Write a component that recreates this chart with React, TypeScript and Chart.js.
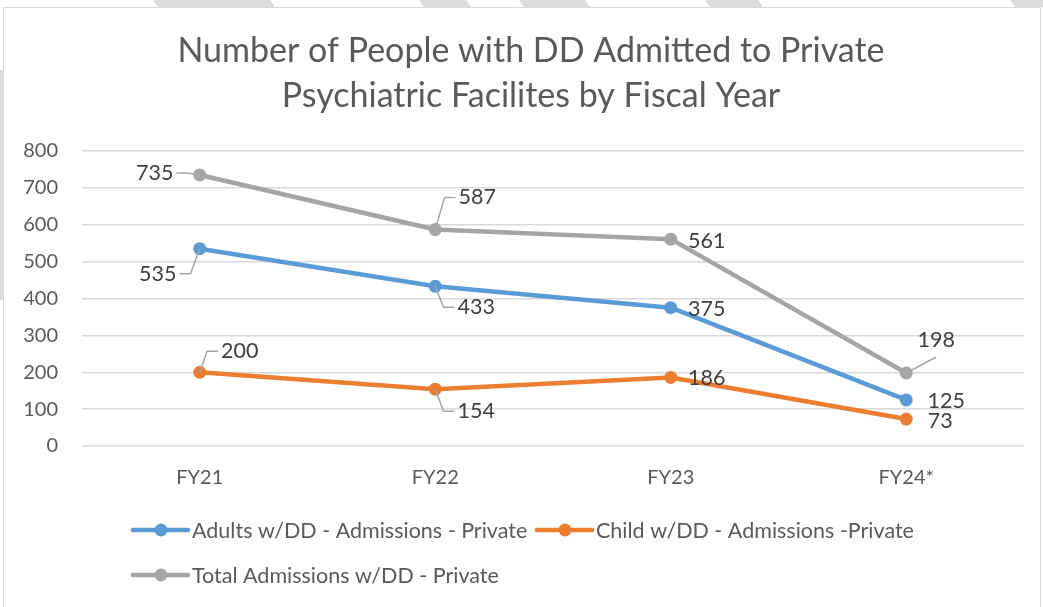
import React, { useEffect, useRef } from "react";
import { Chart, registerables } from "chart.js";

Chart.register(...registerables);

const categories = ["FY21", "FY22", "FY23", "FY24*"];
const adultsValues = [535, 433, 375, 125];
const childValues = [200, 154, 186, 73];
const totalValues = [735, 587, 561, 198];
const yMin = 0;
const yMax = 800;
const yStep = 100;

const titleLines = ["Number of People with DD Admitted to Private", "Psychiatric Facilites by Fiscal Year"];
const seriesNames = [
  "Adults w/DD - Admissions - Private",
  "Child w/DD - Admissions -Private",
  "Total Admissions w/DD - Private",
];
const seriesColors = ["#5B9BD5", "#ED7D31", "#A5A5A5"];

// label placement style: [dx, dy, leader] (leader: "" none, "h" elbow, "d" diagonal)
const labelStyles: [number, number, string][][] = [
  [[-42, 25, "h"], [41, 21, "h"], [36, 1, ""], [40, 1, ""]],
  [[40, -21, "h"], [41, 22, "h"], [36, 1, ""], [34, 2, ""]],
  [[-45, -2, "h"], [42, -32, "h"], [36, 2, ""], [30, -33, "d"]],
];

const FONT = "Lato, 'Open Sans', sans-serif";
const TEXT = "#595959";

const decorPlugin = {
  id: "decor",
  beforeDraw(chart: any) {
    const ctx = chart.ctx;
    const W = chart.width;
    const H = chart.height;
    ctx.save();
    ctx.fillStyle = "#ffffff";
    ctx.fillRect(0, 0, W, H);
    // top stripes
    ctx.fillStyle = "#DCDCDC";
    const stripes = [[153, 270], [419, 466], [519, 585], [705, 758], [1010, 1043]];
    stripes.forEach(([a, b]) => {
      ctx.beginPath();
      ctx.moveTo(a, 0);
      ctx.lineTo(b, 0);
      ctx.lineTo(b + 5, 7);
      ctx.lineTo(a + 5, 7);
      ctx.closePath();
      ctx.fill();
    });
    ctx.fillRect(0, 70, 3, 230);
    // frame
    ctx.strokeStyle = "#D9D9D9";
    ctx.lineWidth = 1;
    ctx.strokeRect(3.5, 7.5, W - 6, H);
    // title
    ctx.fillStyle = TEXT;
    ctx.font = `34px ${FONT}`;
    ctx.textAlign = "center";
    ctx.textBaseline = "middle";
    ctx.fillText(titleLines[0], 531, 51);
    ctx.fillText(titleLines[1], 531, 96);
    ctx.restore();
  },
  afterDraw(chart: any) {
    const ctx = chart.ctx;
    ctx.save();
    // data labels
    ctx.font = `21.5px ${FONT}`;
    ctx.textBaseline = "middle";
    ctx.textAlign = "center";
    chart.data.datasets.forEach((ds: any, di: number) => {
      const meta = chart.getDatasetMeta(di);
      meta.data.forEach((pt: any, i: number) => {
        const [dx, dy, leader] = labelStyles[di][i];
        const px = pt.x;
        const py = pt.y;
        const lx = px + dx;
        const ly = py + dy;
        const txt = String(ds.data[i]);
        const w = ctx.measureText(txt).width;
        if (leader) {
          ctx.strokeStyle = "#A6A6A6";
          ctx.lineWidth = 1.5;
          ctx.beginPath();
          if (leader === "h") {
            const right = lx > px;
            const ax = right ? lx - w / 2 - 3 : lx + w / 2 + 3;
            const ex = right ? ax - 11 : ax + 11;
            ctx.moveTo(px, py);
            ctx.lineTo(ex, ly);
            ctx.lineTo(ax, ly);
          } else {
            ctx.moveTo(px, py);
            ctx.lineTo(lx, ly + 17);
          }
          ctx.stroke();
        }
        ctx.fillStyle = "#404040";
        ctx.fillText(txt, lx, ly);
      });
    });
    // legend
    ctx.font = `21.5px ${FONT}`;
    ctx.textAlign = "left";
    const items = [
      [133, 530],
      [537, 530],
      [133, 575],
    ];
    items.forEach(([x, y], k) => {
      ctx.strokeStyle = seriesColors[k];
      ctx.lineWidth = 4.5;
      ctx.lineCap = "round";
      ctx.beginPath();
      ctx.moveTo(x, y);
      ctx.lineTo(x + 55, y);
      ctx.stroke();
      ctx.fillStyle = seriesColors[k];
      ctx.beginPath();
      ctx.arc(x + 28, y, 6.5, 0, Math.PI * 2);
      ctx.fill();
      ctx.fillStyle = TEXT;
      ctx.fillText(seriesNames[k], x + 59, y + 1);
    });
    ctx.restore();
  },
};

export default function App() {
  const ref = useRef<HTMLCanvasElement | null>(null);
  useEffect(() => {
    document.body.style.margin = "0";
    const values = [adultsValues, childValues, totalValues];
    const chart = new Chart(ref.current as HTMLCanvasElement, {
      type: "line",
      data: {
        labels: categories,
        datasets: values.map((v, k) => ({
          label: seriesNames[k],
          data: v,
          borderColor: seriesColors[k],
          backgroundColor: seriesColors[k],
          borderWidth: 4.5,
          pointRadius: 6.5,
          pointHoverRadius: 6.5,
          pointBorderWidth: 0,
          tension: 0,
          borderCapStyle: "round",
          borderJoinStyle: "round",
        })),
      },
      options: {
        animation: false,
        responsive: false,
        devicePixelRatio: 1,
        layout: { padding: { top: 151, right: 19, left: 0, bottom: 0 } },
        plugins: {
          legend: { display: false },
          title: { display: false },
          tooltip: { enabled: false },
        },
        scales: {
          x: {
            offset: true,
            grid: { display: false, drawTicks: false },
            border: { display: false },
            ticks: { color: TEXT, font: { family: FONT, size: 20 }, padding: 20 },
            afterFit: (s: any) => {
              s.height = 161;
            },
          },
          y: {
            min: yMin,
            max: yMax,
            ticks: { stepSize: yStep, color: TEXT, font: { family: FONT, size: 20 }, padding: 24 },
            grid: { color: "#D9D9D9", lineWidth: 1.5, drawTicks: false },
            border: { display: false },
            afterFit: (s: any) => {
              s.width = 82;
            },
          },
        },
      },
      plugins: [decorPlugin],
    } as any);
    return () => chart.destroy();
  }, []);
  return (
    <div style={{ width: 1043, height: 607 }}>
      <canvas ref={ref} width={1043} height={607} style={{ display: "block" }} />
    </div>
  );
}
